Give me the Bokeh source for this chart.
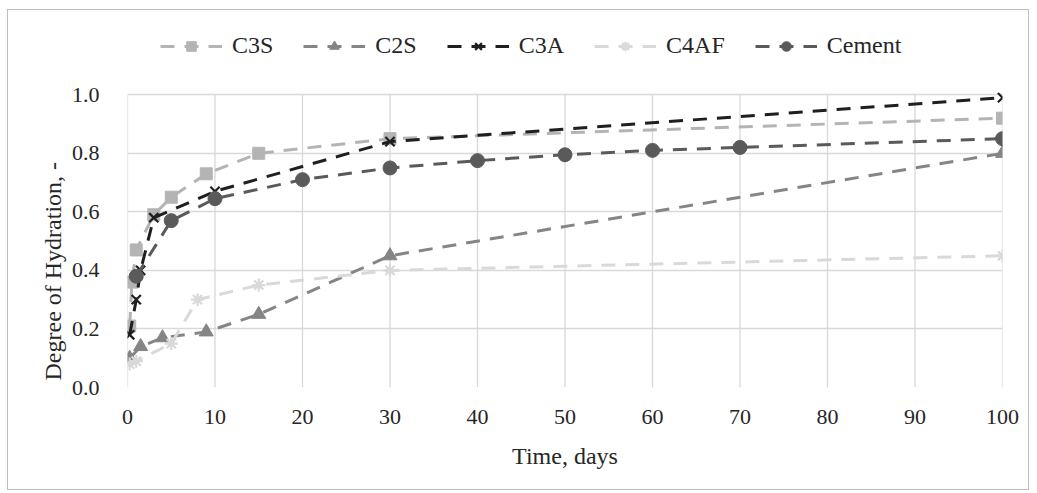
from bokeh.plotting import figure
from bokeh.models import Legend, LegendItem, FixedTicker, NumeralTickFormatter, Title
from bokeh.embed import file_html
from bokeh.resources import INLINE

# Data
c3s_days = [0.25, 0.5, 1, 3, 5, 9, 15, 30, 100]
c3s_vals = [0.21, 0.36, 0.47, 0.59, 0.65, 0.73, 0.80, 0.85, 0.92]

c2s_days = [0.25, 1.5, 4, 9, 15, 30, 100]
c2s_vals = [0.10, 0.14, 0.17, 0.19, 0.25, 0.45, 0.80]

c3a_days = [0.25, 1, 1.5, 3, 10, 30, 100]
c3a_vals = [0.18, 0.30, 0.40, 0.58, 0.67, 0.84, 0.99]

c4af_days = [0.25, 1, 5, 8, 15, 30, 100]
c4af_vals = [0.08, 0.09, 0.15, 0.30, 0.35, 0.40, 0.45]

cem_days = [1, 5, 10, 20, 30, 40, 50, 60, 70, 100]
cem_vals = [0.38, 0.57, 0.645, 0.71, 0.75, 0.775, 0.795, 0.81, 0.82, 0.85]

x_ticks = [0, 10, 20, 30, 40, 50, 60, 70, 80, 90, 100]
y_ticks = [0.0, 0.2, 0.4, 0.6, 0.8, 1.0]

FONT = "Liberation Serif"
TXT = "#262626"
GRID = "#d9d9d9"

p = figure(width=1022, height=481, output_backend="svg", toolbar_location=None,
           x_range=(0, 100), y_range=(0, 1.24),
           min_border_left=119, min_border_right=28, min_border_top=14, min_border_bottom=104)
p.styles = {"border": "1px solid #bdbdbd", "margin-left": "7px", "margin-top": "9px"}
p.outline_line_color = None
p.background_fill_color = "white"
p.border_fill_color = "white"

for ax in (p.xaxis[0], p.yaxis[0]):
    ax.axis_line_color = None
    ax.major_tick_line_color = None
    ax.minor_tick_line_color = None
    ax.major_label_text_font = FONT
    ax.major_label_text_font_size = "22px"
    ax.major_label_text_color = TXT
    ax.axis_label_text_font = FONT
    ax.axis_label_text_font_size = "24px"
    ax.axis_label_text_font_style = "normal"
    ax.axis_label_text_color = TXT

p.xaxis.ticker = FixedTicker(ticks=x_ticks)
p.yaxis.ticker = FixedTicker(ticks=y_ticks)
p.yaxis.formatter = NumeralTickFormatter(format="0.0")
p.xaxis.major_label_standoff = 16
p.yaxis.major_label_standoff = 22
p.xaxis.axis_label = "Time, days"
p.xaxis.axis_label_standoff = 16

# y axis title: anchored at the bottom of the frame so it is centred on the 0..1 span
ytitle = Title(text="Degree of Hydration, -", align="left", offset=7, standoff=6,
               text_font=FONT, text_font_size="24px", text_font_style="normal",
               text_color=TXT)
p.add_layout(ytitle, "left")

p.xgrid.visible = False
p.ygrid.grid_line_color = GRID
p.ygrid.grid_line_width = 1.3
# vertical grid lines limited to the 0..1 value span
p.segment(x0=x_ticks, y0=[y_ticks[0]] * len(x_ticks), x1=x_ticks, y1=[y_ticks[-1]] * len(x_ticks),
          line_color=GRID, line_width=1.3)

DASH = "14 10"
series = [
    ("C3S", c3s_days, c3s_vals, "#b4b4b4", "square", 12),
    ("C2S", c2s_days, c2s_vals, "#858585", "triangle", 14),
    ("C3A", c3a_days, c3a_vals, "#1f1f1f", "x", 13),
    ("C4AF", c4af_days, c4af_vals, "#d9d9d9", "asterisk", 13),
    ("Cement", cem_days, cem_vals, "#5a5a5a", "circle", 14),
]

items = []
for name, xs, ys, col, mk, sz in series:
    r1 = p.line(xs, ys, line_color=col, line_width=3, line_dash=DASH)
    if mk in ("x", "asterisk"):
        r2 = p.scatter(xs, ys, marker=mk, size=sz, line_color=col, line_width=2.2, fill_color=col)
    else:
        r2 = p.scatter(xs, ys, marker=mk, size=sz, line_color=col, fill_color=col)
    items.append(LegendItem(label=name, renderers=[r1, r2]))

legend = Legend(items=items, orientation="horizontal", location=(33, 328),
                label_text_font=FONT, label_text_font_size="24px", label_text_color=TXT,
                label_text_font_style="normal",
                glyph_width=62, glyph_height=24, label_standoff=10, spacing=30,
                padding=0, margin=0, border_line_color=None, background_fill_alpha=0)
p.add_layout(legend, "center")

open("out.html", "w").write(file_html(p, INLINE))
